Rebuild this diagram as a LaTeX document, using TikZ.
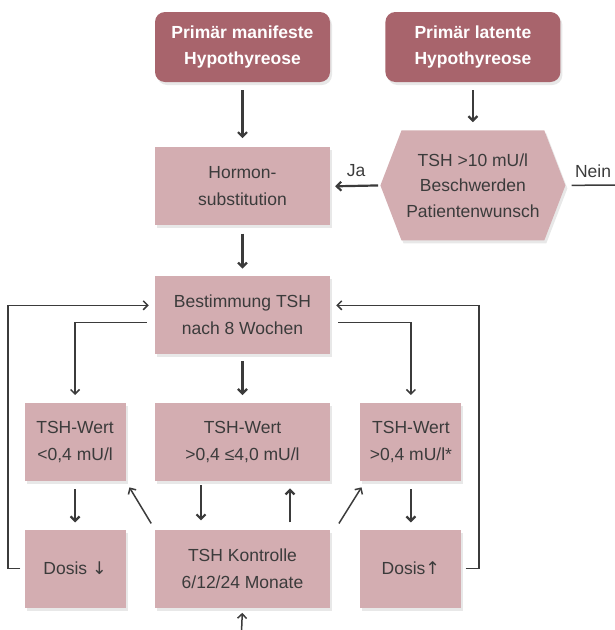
\documentclass[tikz,border=0pt]{standalone}
\usepackage{fontspec}
\setmainfont{Liberation Sans}
\newfontfamily\arrowfont{DejaVu Sans}
\usepackage{xcolor}
\usetikzlibrary{arrows.meta, positioning, calc, shapes.symbols, shadows}

\definecolor{darkrose}{HTML}{A8646C}
\definecolor{lightrose}{HTML}{D3ADB1}
\definecolor{txtgray}{HTML}{3B3B3B}

\begin{document}
\begin{tikzpicture}[
			x=1pt, y=-1pt,
			node distance=48pt,
			shade/.style={drop shadow={shadow xshift=2pt, shadow yshift=-3pt, fill=black!18}},
			head/.style={fill=darkrose, rounded corners=10pt, text=white, align=center, inner sep=0pt,
				font=\bfseries\fontsize{17.5}{26}\selectfont, minimum width=175pt, minimum height=70pt, shade},
			box/.style={fill=lightrose, text=txtgray, align=center, inner sep=0pt,
				font=\fontsize{17.5}{27}\selectfont, minimum height=78pt, shade},
			wide/.style={box, minimum width=175pt},
			small/.style={box, minimum width=101pt},
			hexa/.style={signal, signal to=west and east, signal pointer angle=138, fill=lightrose,
				text=txtgray, align=center, inner sep=0pt, font=\fontsize{17.5}{25.5}\selectfont,
				minimum width=185pt, minimum height=110pt, shade},
			lbl/.style={text=txtgray, font=\fontsize{17.5}{20}\selectfont},
			arr/.style={draw=txtgray, line width=2.2pt, -{Straight Barb[length=4.5pt,width=9pt]}},
			loop/.style={draw=txtgray, line width=1.5pt, -{Straight Barb[length=4.5pt,width=9pt]}}
			]
			\useasboundingbox (0,0) rectangle (615,630);
			
			\node[head] (pm) at (242.5,47) {Primär manifeste\\Hypothyreose};
			\node[head, right=55pt of pm] (pl) {Primär latente\\Hypothyreose};
			\node[wide, below=65pt of pm] (horm) {Hormon-\\substitution};
			\node[hexa, below=48pt of pl] (hex) {TSH >10 mU/l\\Beschwerden\\Patientenwunsch};
			\node[wide, below=50pt of horm] (bst) {Bestimmung TSH\\nach 8 Wochen};
			\node[wide, below=49pt of bst] (w2) {TSH-Wert\\>0,4 ≤4,0 mU/l};
			\node[small, left=29pt of w2] (w1) {TSH-Wert\\<0,4 mU/l};
			\node[small, right=30pt of w2] (w3) {TSH-Wert\\>0,4 mU/l*};
			\node[wide, below=48pt of w2] (k) {TSH Kontrolle\\6/12/24 Monate};
			\node[small, below=48pt of w1] (d1) {Dosis {\arrowfont ↓}};
			\node[small, below=48pt of w3] (d3) {Dosis{\arrowfont ↑}};
			
			\node[lbl] (ja) at (356,171) {Ja};
			\node[lbl] (nein) at (593,171) {Nein};
			\coordinate (neinend) at (615,185);
			\coordinate (lx) at (8,0);
			\coordinate (rx) at (479,0);
			\coordinate (kin) at (241.5,632);
			
			\draw[arr, shorten <=8pt, shorten >=9pt] (pm) -- (horm);
			\draw[arr, shorten <=8pt, shorten >=8pt] (pl.south) -- (hex.north);
			\draw[arr, shorten <=2pt, shorten >=5pt] (hex.west) -- (horm.east);
			\draw[draw=txtgray, line width=1.5pt, shorten <=6pt] (hex.east) -- (neinend);
			\draw[arr, shorten <=8pt, shorten >=7pt] (horm) -- (bst);
			\draw[arr, shorten <=7pt, shorten >=8pt] (bst) -- (w2);
			
			\draw[loop, shorten <=8pt, shorten >=8pt] ([yshift=-7.5pt]bst.west) -| (w1.north);
			\draw[loop, shorten <=8pt, shorten >=8pt] ([yshift=-7.5pt]bst.east) -| (w3.north);
			\draw[loop, shorten <=4pt, shorten >=6pt] (d1.west) -- (d1.west -| lx) |- ([yshift=9.5pt]bst.west);
			\draw[loop, shorten <=4pt, shorten >=6pt] (d3.east) -- (d3.east -| rx) |- ([yshift=9.5pt]bst.east);
			
			\draw[arr, shorten <=8pt, shorten >=7pt] (w1) -- (d1);
			\draw[arr, shorten <=8pt, shorten >=7pt] (w3) -- (d3);
			\draw[arr, shorten <=4pt, shorten >=9pt] ([xshift=-41.5pt]w2.south) -- ([xshift=-41.5pt]k.north);
			\draw[arr, shorten <=7pt, shorten >=7pt] ([xshift=47.5pt]k.north) -- ([xshift=47.5pt]w2.south);
			\draw[arr, line width=1.5pt, shorten <=7pt, shorten >=7pt] (k.north west) -- (w1.south east);
			\draw[arr, line width=1.5pt, shorten <=7pt, shorten >=7pt] ([xshift=5pt]k.north east) -- ([xshift=5pt]w3.south west);
			\draw[arr, line width=1.5pt, shorten >=5pt] (kin) -- (k.south);
		\end{tikzpicture}
\end{document}
